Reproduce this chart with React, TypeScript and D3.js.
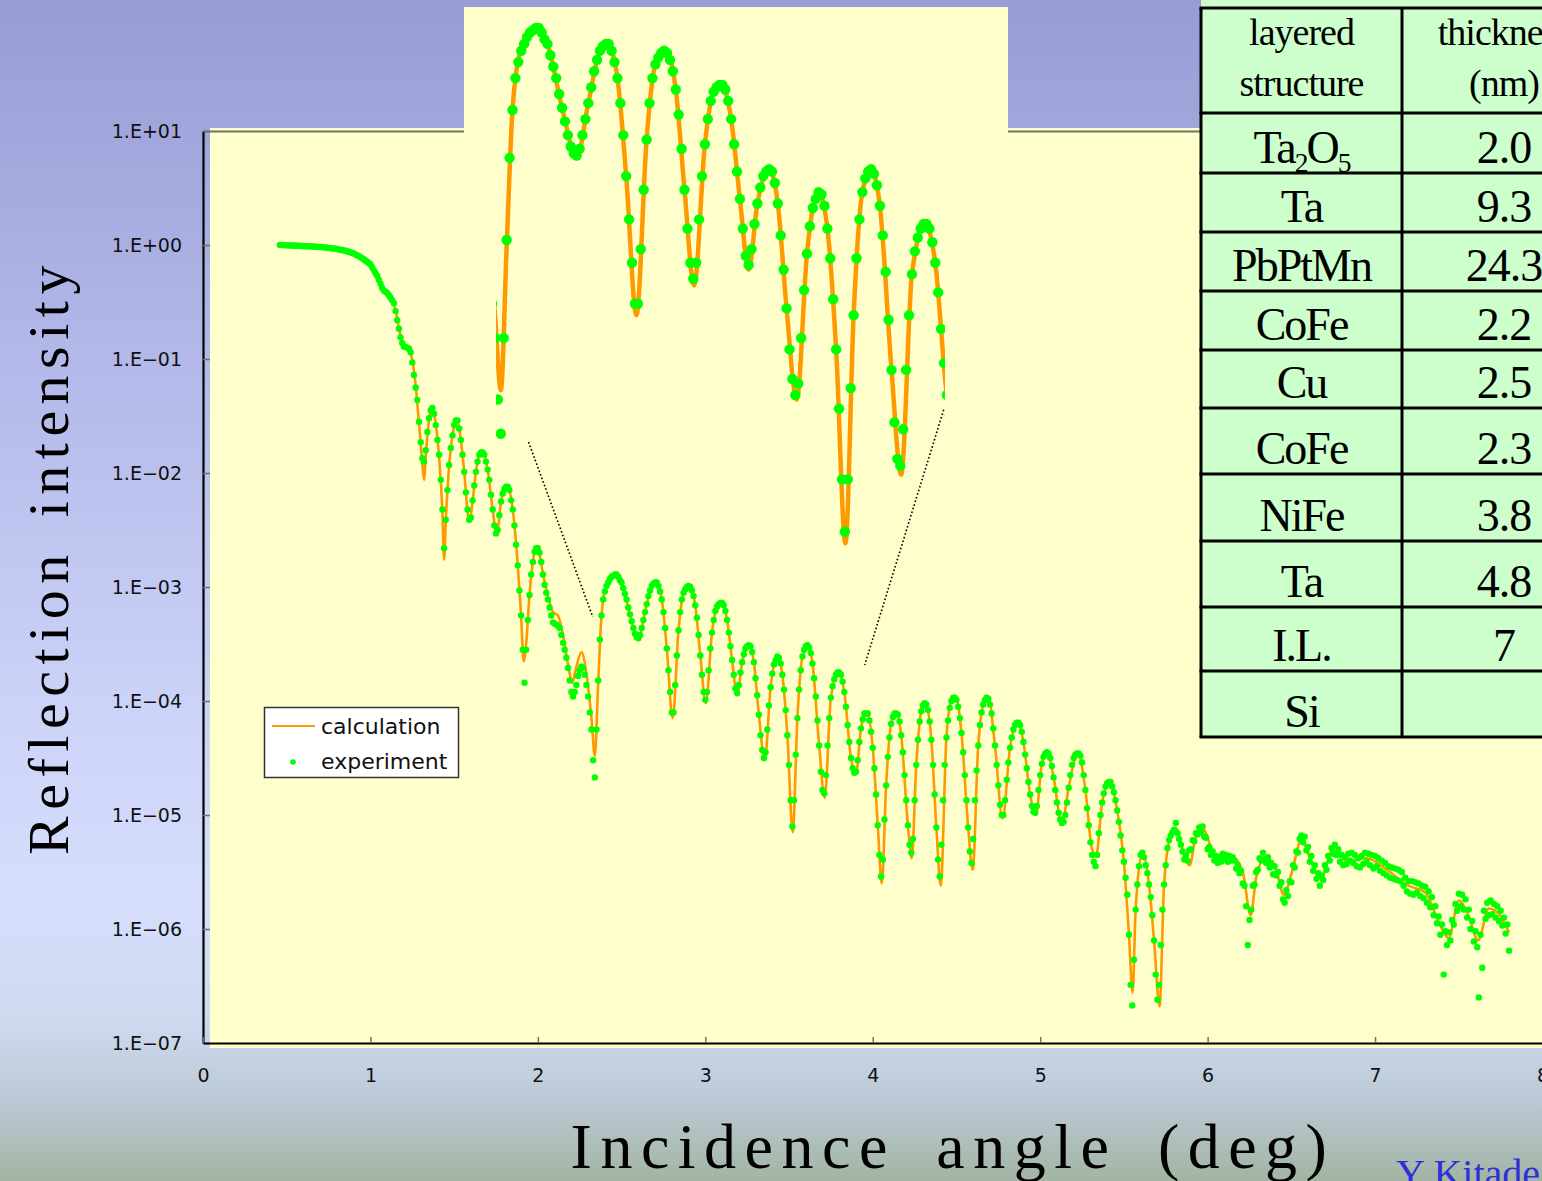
import React, { useEffect, useRef } from "react";
import * as d3 from "d3";

const W = 1542;
const H = 1181;

// Reflectivity scan: uniform angular grid (deg)
const scanStart = 0.46;
const scanStep = 0.01;

// Measured reflection intensity on the scan grid, as log10(I)
const experimentLog = [
  0.000, 0.000, -0.001, -0.002, -0.003, -0.003, -0.004, -0.004, -0.005, -0.006,
  -0.006, -0.007, -0.008, -0.009, -0.010, -0.010, -0.011, -0.012, -0.012, -0.013,
  -0.014, -0.015, -0.016, -0.017, -0.018, -0.019, -0.020, -0.022, -0.023, -0.025,
  -0.027, -0.029, -0.031, -0.033, -0.035, -0.038, -0.041, -0.044, -0.047, -0.050,
  -0.054, -0.059, -0.064, -0.069, -0.075, -0.082, -0.089, -0.097, -0.106, -0.115,
  -0.125, -0.136, -0.147, -0.158, -0.170, -0.195, -0.220, -0.245, -0.270, -0.305,
  -0.340, -0.375, -0.400, -0.410, -0.420, -0.440, -0.460, -0.485, -0.510, -0.580,
  -0.660, -0.735, -0.810, -0.860, -0.890, -0.895, -0.900, -0.910, -0.940, -1.030,
  -1.14, -1.25, -1.36, -1.55, -1.73, -1.87, -1.90, -1.80, -1.64, -1.52,
  -1.45, -1.43, -1.48, -1.58, -1.71, -1.84, -2.06, -2.32, -2.66, -2.41,
  -2.15, -1.93, -1.78, -1.67, -1.58, -1.54, -1.54, -1.61, -1.71, -1.84,
  -1.99, -2.17, -2.32, -2.41, -2.39, -2.24, -2.11, -1.99, -1.90, -1.84,
  -1.82, -1.82, -1.84, -1.90, -1.97, -2.06, -2.19, -2.32, -2.46, -2.53,
  -2.50, -2.37, -2.25, -2.18, -2.14, -2.12, -2.12, -2.15, -2.24, -2.32,
  -2.46, -2.63, -2.81, -3.03, -3.25, -3.55, -3.84, -3.55, -3.29, -3.07,
  -2.89, -2.78, -2.69, -2.66, -2.66, -2.70, -2.78, -2.89, -2.98, -3.05,
  -3.11, -3.18, -3.25, -3.31, -3.32, -3.33, -3.34, -3.36, -3.42, -3.49,
  -3.55, -3.62, -3.71, -3.82, -3.92, -3.96, -3.92, -3.86, -3.78, -3.73,
  -3.70, -3.71, -3.77, -3.86, -3.96, -4.10, -4.25, -4.52, -4.67, -4.25,
  -3.82, -3.46, -3.25, -3.11, -3.04, -2.99, -2.96, -2.93, -2.91, -2.90,
  -2.89, -2.89, -2.91, -2.94, -2.96, -3.01, -3.06, -3.11, -3.18, -3.24,
  -3.30, -3.36, -3.41, -3.44, -3.45, -3.42, -3.36, -3.29, -3.22, -3.15,
  -3.08, -3.03, -2.99, -2.97, -2.96, -2.96, -2.99, -3.04, -3.11, -3.22,
  -3.36, -3.54, -3.73, -3.92, -4.10, -4.10, -3.86, -3.60, -3.38, -3.22,
  -3.11, -3.05, -3.02, -3.00, -2.99, -3.00, -3.03, -3.08, -3.16, -3.27,
  -3.42, -3.60, -3.77, -3.92, -3.99, -3.92, -3.73, -3.54, -3.40, -3.29,
  -3.21, -3.17, -3.15, -3.14, -3.14, -3.16, -3.21, -3.29, -3.40, -3.52,
  -3.64, -3.77, -3.89, -3.93, -3.86, -3.75, -3.66, -3.59, -3.54, -3.52,
  -3.51, -3.52, -3.57, -3.66, -3.80, -3.95, -4.12, -4.30, -4.43, -4.50,
  -4.45, -4.25, -4.04, -3.88, -3.76, -3.68, -3.64, -3.61, -3.62, -3.67,
  -3.77, -3.90, -4.08, -4.30, -4.56, -4.87, -5.10, -4.87, -4.47, -4.15,
  -3.90, -3.73, -3.61, -3.55, -3.52, -3.51, -3.53, -3.58, -3.67, -3.80,
  -3.96, -4.17, -4.39, -4.62, -4.78, -4.81, -4.65, -4.39, -4.15, -3.97,
  -3.87, -3.81, -3.77, -3.75, -3.75, -3.77, -3.83, -3.92, -4.05, -4.21,
  -4.36, -4.50, -4.59, -4.63, -4.62, -4.52, -4.36, -4.24, -4.16, -4.11,
  -4.11, -4.11, -4.17, -4.27, -4.41, -4.59, -4.82, -5.09, -5.35, -5.54,
  -5.39, -5.04, -4.74, -4.49, -4.32, -4.20, -4.14, -4.11, -4.11, -4.12,
  -4.18, -4.30, -4.45, -4.65, -4.87, -5.09, -5.26, -5.33, -5.21, -4.87,
  -4.56, -4.34, -4.18, -4.09, -4.04, -4.02, -4.03, -4.08, -4.18, -4.34,
  -4.56, -4.82, -5.11, -5.39, -5.54, -5.26, -4.87, -4.56, -4.32, -4.17,
  -4.06, -4.00, -3.97, -3.97, -3.99, -4.05, -4.15, -4.28, -4.45, -4.65,
  -4.87, -5.11, -5.32, -5.42, -5.21, -4.87, -4.61, -4.39, -4.21, -4.10,
  -4.03, -3.99, -3.97, -3.98, -4.03, -4.11, -4.24, -4.39, -4.56, -4.74,
  -4.91, -5.00, -5.00, -4.87, -4.69, -4.54, -4.41, -4.32, -4.25, -4.21,
  -4.19, -4.19, -4.21, -4.27, -4.36, -4.47, -4.59, -4.71, -4.82, -4.92,
  -4.97, -4.98, -4.92, -4.78, -4.65, -4.55, -4.49, -4.46, -4.45, -4.46,
  -4.50, -4.57, -4.67, -4.78, -4.89, -4.98, -5.04, -5.07, -5.06, -5.00,
  -4.89, -4.76, -4.65, -4.56, -4.50, -4.47, -4.46, -4.46, -4.48, -4.54,
  -4.65, -4.78, -4.94, -5.09, -5.24, -5.35, -5.41, -5.45, -5.35, -5.16,
  -5.00, -4.89, -4.81, -4.75, -4.72, -4.71, -4.71, -4.75, -4.80, -4.87,
  -4.96, -5.06, -5.18, -5.31, -5.41, -5.55, -5.70, -6.05, -6.49, -6.67,
  -6.27, -5.83, -5.61, -5.45, -5.35, -5.33, -5.37, -5.44, -5.51, -5.61,
  -5.72, -5.88, -6.10, -6.40, -6.62, -6.49, -6.14, -5.83, -5.61, -5.44,
  -5.29, -5.22, -5.18, -5.15, -5.13, -5.07, -5.16, -5.21, -5.26, -5.32,
  -5.39, -5.35, -5.40, -5.31, -5.30, -5.22, -5.23, -5.16, -5.17, -5.11,
  -5.15, -5.10, -5.19, -5.20, -5.30, -5.28, -5.35, -5.32, -5.40, -5.36,
  -5.42, -5.37, -5.41, -5.34, -5.39, -5.35, -5.41, -5.36, -5.40, -5.37,
  -5.40, -5.47, -5.44, -5.51, -5.49, -5.60, -5.62, -5.80, -6.14, -5.92,
  -5.83, -5.62, -5.61, -5.50, -5.48, -5.38, -5.40, -5.33, -5.39, -5.42,
  -5.37, -5.46, -5.42, -5.52, -5.45, -5.53, -5.50, -5.62, -5.59, -5.74,
  -5.77, -5.66, -5.71, -5.58, -5.59, -5.44, -5.46, -5.32, -5.33, -5.21,
  -5.18, -5.24, -5.19, -5.31, -5.28, -5.41, -5.36, -5.49, -5.44, -5.56,
  -5.51, -5.62, -5.53, -5.57, -5.44, -5.48, -5.36, -5.40, -5.29, -5.34,
  -5.26, -5.35, -5.30, -5.41, -5.35, -5.44, -5.37, -5.43, -5.34, -5.40,
  -5.33, -5.42, -5.35, -5.45, -5.38, -5.46, -5.36, -5.43, -5.33, -5.41,
  -5.34, -5.44, -5.35, -5.47, -5.36, -5.45, -5.38, -5.49, -5.40, -5.51,
  -5.42, -5.53, -5.45, -5.55, -5.46, -5.56, -5.47, -5.57, -5.48, -5.58,
  -5.50, -5.62, -5.55, -5.67, -5.58, -5.69, -5.58, -5.70, -5.59, -5.68,
  -5.60, -5.71, -5.62, -5.73, -5.63, -5.77, -5.67, -5.81, -5.72, -5.88,
  -5.80, -5.95, -5.89, -6.05, -5.96, -6.40, -6.02, -6.14, -6.03, -6.10,
  -5.92, -5.96, -5.78, -5.84, -5.69, -5.80, -5.70, -5.83, -5.74, -5.90,
  -5.83, -6.00, -5.93, -6.11, -6.02, -6.16, -6.60, -6.05, -6.34, -5.84,
  -5.91, -5.77, -5.88, -5.75, -5.87, -5.78, -5.90, -5.80, -5.93, -5.84,
  -5.97, -5.90, -6.04, -5.96, -6.19,
];

// Calculated (fitted) reflectivity: [angle deg, log10(I)]
const calcCurve: [number, number][] = [
  [0.46, -0.005], [0.6, -0.02], [0.75, -0.04], [0.85, -0.065], [0.95, -0.13], [1.0, -0.185],
  [1.04, -0.29], [1.07, -0.38], [1.1, -0.435], [1.13, -0.49], [1.15, -0.57], [1.17, -0.73],
  [1.19, -0.865], [1.21, -0.905], [1.23, -0.92], [1.25, -1.01], [1.27, -1.23], [1.29, -1.56],
  [1.31, -1.92], [1.32, -2.06], [1.33, -1.86], [1.35, -1.53], [1.37, -1.43], [1.39, -1.57],
  [1.41, -1.86], [1.43, -2.35], [1.44, -2.76], [1.45, -2.42], [1.47, -1.94], [1.49, -1.67],
  [1.515, -1.53], [1.54, -1.71], [1.56, -1.99], [1.59, -2.43], [1.61, -2.25], [1.63, -1.99],
  [1.665, -1.81], [1.7, -1.97], [1.73, -2.32], [1.755, -2.54], [1.78, -2.25], [1.815, -2.11],
  [1.85, -2.32], [1.88, -2.81], [1.9, -3.25], [1.915, -3.65], [1.93, -3.5], [1.95, -3.07],
  [1.97, -2.78], [1.995, -2.64], [2.03, -2.88], [2.06, -3.08], [2.09, -3.22], [2.12, -3.25],
  [2.15, -3.42], [2.18, -3.68], [2.205, -3.84], [2.23, -3.7], [2.26, -3.57], [2.29, -3.76],
  [2.32, -4.15], [2.34, -4.48], [2.36, -3.85], [2.38, -3.25], [2.41, -2.98], [2.46, -2.89],
  [2.5, -2.96], [2.55, -3.24], [2.6, -3.46], [2.64, -3.22], [2.68, -2.99], [2.705, -2.96],
  [2.74, -3.11], [2.77, -3.54], [2.805, -4.15], [2.84, -3.38], [2.87, -3.05], [2.905, -2.99],
  [2.94, -3.16], [2.97, -3.6], [3.003, -4.02], [3.04, -3.4], [3.07, -3.17], [3.095, -3.14],
  [3.13, -3.29], [3.16, -3.64], [3.19, -3.95], [3.22, -3.66], [3.26, -3.51], [3.29, -3.66],
  [3.32, -4.12], [3.355, -4.52], [3.39, -3.88], [3.43, -3.61], [3.46, -3.77], [3.49, -4.3],
  [3.522, -5.15], [3.55, -4.15], [3.58, -3.61], [3.61, -3.51], [3.64, -3.67], [3.68, -4.39],
  [3.713, -4.85], [3.75, -3.97], [3.795, -3.75], [3.83, -3.92], [3.87, -4.5], [3.9, -4.64],
  [3.93, -4.24], [3.965, -4.1], [4.0, -4.41], [4.03, -5.09], [4.054, -5.6], [4.08, -4.74],
  [4.11, -4.2], [4.14, -4.1], [4.17, -4.3], [4.21, -5.09], [4.233, -5.38], [4.26, -4.56],
  [4.29, -4.09], [4.315, -4.02], [4.35, -4.34], [4.38, -5.11], [4.406, -5.62], [4.44, -4.32],
  [4.47, -4.0], [4.495, -3.97], [4.53, -4.28], [4.57, -5.11], [4.597, -5.48], [4.63, -4.39],
  [4.67, -3.99], [4.69, -3.97], [4.73, -4.39], [4.775, -5.03], [4.82, -4.41], [4.865, -4.19],
  [4.9, -4.36], [4.94, -4.82], [4.975, -5.0], [5.01, -4.55], [5.045, -4.45], [5.08, -4.67],
  [5.13, -5.08], [5.17, -4.76], [5.225, -4.45], [5.27, -4.78], [5.31, -5.3], [5.335, -5.35],
  [5.37, -4.89], [5.415, -4.71], [5.46, -4.96], [5.5, -5.41], [5.53, -6.05], [5.552, -6.56],
  [5.57, -5.83], [5.61, -5.33], [5.65, -5.61], [5.68, -6.1], [5.713, -6.68], [5.74, -5.61],
  [5.78, -5.18], [5.815, -5.12], [5.85, -5.3], [5.893, -5.44], [5.93, -5.19], [5.975, -5.13],
  [6.03, -5.32], [6.09, -5.39], [6.15, -5.37], [6.21, -5.5], [6.257, -5.88], [6.29, -5.55],
  [6.345, -5.37], [6.41, -5.49], [6.455, -5.7], [6.5, -5.52], [6.56, -5.22], [6.62, -5.41],
  [6.675, -5.56], [6.75, -5.3], [6.83, -5.4], [6.95, -5.38], [7.07, -5.48], [7.2, -5.62],
  [7.3, -5.68], [7.38, -5.94], [7.44, -6.08], [7.5, -5.75], [7.56, -5.89], [7.615, -6.1],
  [7.68, -5.82], [7.74, -5.87], [7.8, -6.03],
];

const xTicks = [0, 1, 2, 3, 4, 5, 6, 7, 8];
const yTickExponents = [1, 0, -1, -2, -3, -4, -5, -6, -7];

// Magnified window of the scan shown in the inset (deg)
const insetWindow = [2.32, 3.86];
// Leader lines: [angle, log10 I] on the inset  ->  [angle, log10 I] on the main plot
const insetLeaders = [
  { from: [2.435, -4.706], to: [2.328, -3.263] },
  { from: [3.859, -4.565], to: [3.952, -3.684] },
];

// Sample layer stack ("_n" marks a subscript)
const layerNames = ["Ta_2O_5", "Ta", "PbPtMn", "CoFe", "Cu", "CoFe", "NiFe", "Ta", "I.L.", "Si"];
const layerThickness = ["2.0", "9.3", "24.3", "2.2", "2.5", "2.3", "3.8", "4.8", "7", ""];

const GREEN = "#00ff00";
const ORANGE = "#ff9900";
const PLOT_BG = "#ffffcc";

function expPoints() {
  return experimentLog.map((v, i) => ({ a: scanStart + i * scanStep, v }));
}

function renderFormula(label: string, size: number) {
  const tokens = label.split(/(_\d)/).filter((t) => t.length > 0);
  const drop = size * 0.2;
  let lowered = false;
  return tokens.map((t, k) => {
    if (t[0] === "_") {
      const el = (
        <tspan key={k} fontSize={size * 0.6} dy={lowered ? 0 : drop}>
          {t[1]}
        </tspan>
      );
      lowered = true;
      return el;
    }
    const el = (
      <tspan key={k} dy={lowered ? -drop : 0}>
        {t}
      </tspan>
    );
    lowered = false;
    return el;
  });
}

export default function App() {
  const xAxisRef = useRef<SVGGElement>(null);
  const yAxisRef = useRef<SVGGElement>(null);

  const x = d3.scaleLinear().domain([0, 8]).range([203, 1542.5]);
  const y = d3.scaleLog().domain([1e-7, 1e1]).range([1043, 131]);

  const xi = d3.scaleLinear().domain(insetWindow).range([495, 944]);
  const yi = d3.scaleLog().domain([1e-2, 1e-6]).range([-175, 737]);

  const pts = expPoints();
  const calcPts = calcCurve.map(([a, v]) => ({ a, v }));

  const mainLine = d3
    .line<{ a: number; v: number }>()
    .x((d) => x(d.a))
    .y((d) => y(Math.pow(10, d.v)))
    .curve(d3.curveMonotoneX);

  const insetLine = d3
    .line<{ a: number; v: number }>()
    .x((d) => xi(d.a))
    .y((d) => yi(Math.pow(10, d.v)))
    .curve(d3.curveMonotoneX);

  const insetCalc = calcPts.filter((d) => d.a > insetWindow[0] - 0.08 && d.a < insetWindow[1] + 0.08);
  const insetPts = pts.filter((d) => d.a > insetWindow[0] - 0.03 && d.a < insetWindow[1] + 0.03);

  useEffect(() => {
    const fmt = (d: number) => {
      const e = Math.round(Math.log10(d));
      const s = String(Math.abs(e)).padStart(2, "0");
      return "1.E" + (e >= 0 ? "+" : "\u2212") + s;
    };
    const gy = d3.select(yAxisRef.current as SVGGElement);
    gy.call(
      d3
        .axisLeft(y)
        .tickValues(yTickExponents.map((e) => Math.pow(10, e)))
        .tickSizeInner(-7)
        .tickSizeOuter(0)
        .tickPadding(21)
        .tickFormat(fmt as any)
    );
    const gx = d3.select(xAxisRef.current as SVGGElement);
    gx.call(
      d3
        .axisBottom(x)
        .tickValues(xTicks)
        .tickSizeInner(-6)
        .tickSizeOuter(0)
        .tickPadding(26)
        .tickFormat(d3.format("d") as any)
    );
    [gx, gy].forEach((g) => {
      g.attr("font-family", "'DejaVu Sans', sans-serif").attr("font-size", 19);
      g.select(".domain").attr("stroke", "#000").attr("stroke-width", 2.2);
      g.selectAll(".tick line").attr("stroke", "#6f6f6f").attr("stroke-width", 1.5);
      g.selectAll(".tick text").attr("fill", "#111");
    });
  }, []);

  // table geometry
  const rowEdges = [8, 113, 173, 232, 291, 350, 408, 474, 541, 607, 671, 737];
  const colLeft = 1201;
  const colMid = 1402;
  const colRight = 1606;
  const c1 = (colLeft + colMid) / 2;
  const c2 = (colMid + colRight) / 2;

  return (
    <svg
      width={W}
      height={H}
      viewBox={`0 0 ${W} ${H}`}
      style={{ position: "absolute", left: 0, top: 0, display: "block" }}
    >
      <defs>
        <linearGradient id="bg" x1="0" y1="0" x2="0" y2="1">
          <stop offset="0" stopColor="#979cd5" />
          <stop offset="0.3" stopColor="#b2b8e8" />
          <stop offset="0.6" stopColor="#ccd3f8" />
          <stop offset="0.76" stopColor="#d6defc" />
          <stop offset="0.86" stopColor="#cfdaf1" />
          <stop offset="0.93" stopColor="#bccad6" />
          <stop offset="1" stopColor="#a2b4a3" />
        </linearGradient>
        <clipPath id="insetClip">
          <rect x={496} y={0} width={449} height={600} />
        </clipPath>
        <clipPath id="plotClip">
          <rect x={203} y={7} width={1339} height={1040} />
        </clipPath>
      </defs>

      <rect x={0} y={0} width={W} height={H} fill="url(#bg)" />

      {/* plot area and inset panel */}
      <rect x={210} y={128} width={W - 210} height={920} fill={PLOT_BG} />
      <rect x={464} y={7} width={544} height={125} fill={PLOT_BG} />
      <line x1={203} x2={464} y1={131.5} y2={131.5} stroke="#707070" strokeWidth={2} />
      <line x1={1008} x2={1200} y1={131.5} y2={131.5} stroke="#707070" strokeWidth={2} />

      {/* main data */}
      <g clipPath="url(#plotClip)">
        <path d={mainLine(calcPts) || ""} fill="none" stroke={ORANGE} strokeWidth={2.6} />
        {pts.map((d, i) => (
          <circle key={i} cx={x(d.a)} cy={y(Math.pow(10, d.v))} r={3.2} fill={GREEN} />
        ))}
      </g>

      <g ref={yAxisRef} transform="translate(203,0)" />
      <g ref={xAxisRef} transform="translate(0,1043)" />

      {/* magnified inset */}
      <g clipPath="url(#insetClip)">
        <path d={insetLine(insetCalc) || ""} fill="none" stroke={ORANGE} strokeWidth={4.5} />
        {insetPts.map((d, i) => (
          <circle key={i} cx={xi(d.a)} cy={yi(Math.pow(10, d.v))} r={5.2} fill={GREEN} />
        ))}
      </g>

      {insetLeaders.map((l, i) => (
        <line
          key={i}
          x1={xi(l.from[0])}
          y1={yi(Math.pow(10, l.from[1]))}
          x2={x(l.to[0])}
          y2={y(Math.pow(10, l.to[1]))}
          stroke="#000"
          strokeWidth={1.6}
          strokeDasharray="1.6 2.2"
        />
      ))}

      {/* legend */}
      <g fontFamily="'DejaVu Sans', sans-serif" fontSize={22} fill="#111">
        <rect x={264.5} y={707.5} width={194} height={70} fill="#ffffff" stroke="#333" strokeWidth={1.5} />
        <line x1={272} x2={315} y1={726} y2={726} stroke={ORANGE} strokeWidth={2} />
        <text x={321} y={734}>calculation</text>
        <circle cx={293} cy={762} r={2.8} fill={GREEN} />
        <text x={321} y={769}>experiment</text>
      </g>

      {/* layer table */}
      <g fontFamily="'Liberation Serif', 'Times New Roman', serif" fill="#000">
        <rect x={colLeft} y={0} width={colRight - colLeft} height={737} fill="#ccffcc" />
        {rowEdges.map((r, i) => (
          <line key={i} x1={colLeft - 1.5} x2={colRight} y1={r} y2={r} stroke="#000" strokeWidth={3} />
        ))}
        <line x1={colLeft} x2={colLeft} y1={8} y2={737} stroke="#000" strokeWidth={3} />
        <line x1={colMid} x2={colMid} y1={8} y2={737} stroke="#000" strokeWidth={3} />
        <text x={c1} y={45} fontSize={38} textAnchor="middle" letterSpacing={-1}>layered</text>
        <text x={c1} y={96} fontSize={38} textAnchor="middle" letterSpacing={-1}>structure</text>
        <text x={c2} y={45} fontSize={38} textAnchor="middle" letterSpacing={-1}>thickness</text>
        <text x={c2} y={96} fontSize={38} textAnchor="middle" letterSpacing={-1}>(nm)</text>
        {layerNames.map((n, i) => (
          <text
            key={"n" + i}
            x={c1}
            y={rowEdges[i + 2] - 10}
            fontSize={46}
            textAnchor="middle"
            letterSpacing={-2}
          >
            {renderFormula(n, 46)}
          </text>
        ))}
        {layerThickness.map((t, i) => (
          <text key={"t" + i} x={c2} y={rowEdges[i + 2] - 10} fontSize={46} textAnchor="middle" letterSpacing={-1}>
            {t}
          </text>
        ))}
      </g>

      {/* axis titles */}
      <text
        transform="translate(68,557) rotate(-90)"
        textAnchor="middle"
        fontFamily="'Liberation Serif', 'Times New Roman', serif"
        fontSize={58}
        letterSpacing={6.5}
        wordSpacing={10}
        fill="#000"
      >
        Reflection intensity
      </text>
      <text
        x={953}
        y={1168}
        textAnchor="middle"
        fontFamily="'Liberation Serif', 'Times New Roman', serif"
        fontSize={64}
        letterSpacing={8.5}
        wordSpacing={16}
        fill="#000"
      >
        Incidence angle (deg)
      </text>
      <text
        x={1396}
        y={1187}
        fontFamily="'Liberation Serif', 'Times New Roman', serif"
        fontSize={40}
        fill="#2f2fd6"
      >
        Y Kitade
      </text>
    </svg>
  );
}
